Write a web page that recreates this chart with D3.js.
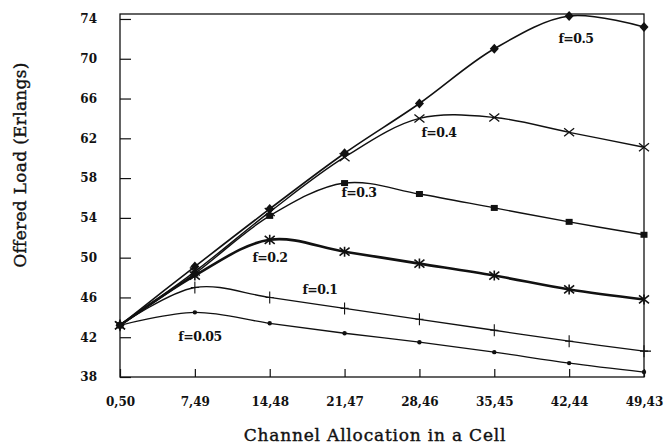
<!DOCTYPE html>
<html>
<head>
<meta charset="utf-8">
<script src="https://cdn.jsdelivr.net/npm/d3@7"></script>
<style>
  body { margin: 0; background: #fff; }
  svg text { font-family: "DejaVu Serif", serif; font-weight: bold; fill: #111; }
</style>
</head>
<body>
<div id="chart"></div>
<script>
// valeurs
const categories = ["0,50", "7,49", "14,48", "21,47", "28,46", "35,45", "42,44", "49,43"];
const yTicks = [38, 42, 46, 50, 54, 58, 62, 66, 70, 74];

const f05 = [43.2, 49.1, 54.9, 60.5, 65.5, 71.0, 74.3, 73.2];
const f04 = [43.2, 48.6, 54.6, 60.1, 64.0, 64.1, 62.6, 61.1];
const f03 = [43.2, 48.4, 54.2, 57.5, 56.4, 55.0, 53.6, 52.3];
const f02 = [43.2, 48.2, 51.8, 50.6, 49.4, 48.2, 46.8, 45.8];
const f01 = [43.2, 47.0, 46.0, 44.9, 43.8, 42.7, 41.6, 40.6];
const f005 = [43.2, 44.5, 43.4, 42.4, 41.5, 40.5, 39.4, 38.5];

const seriesNames = ["f=0.5", "f=0.4", "f=0.3", "f=0.2", "f=0.1", "f=0.05"];

var width = 665, height = 445;
var margin = { left: 120, right: 21, top: 14, bottom: 68 };

var svg = d3.select("#chart").append("svg")
  .attr("width", width)
  .attr("height", height);

var x = d3.scalePoint().domain(categories).range([margin.left, width - margin.right]);
var y = d3.scaleLinear().domain([38, 74.5]).range([height - margin.bottom, margin.top]);

// cadre
svg.append("rect")
  .attr("x", margin.left)
  .attr("y", margin.top)
  .attr("width", width - margin.right - margin.left)
  .attr("height", height - margin.bottom - margin.top)
  .attr("fill", "none")
  .attr("stroke", "#111")
  .attr("stroke-width", 1.3);

// axe y : ticks vers l'interieur
var yAxis = d3.axisLeft(y).tickValues(yTicks).tickSize(-11).tickPadding(23);
var gy = svg.append("g").attr("transform", "translate(" + margin.left + ",0)").call(yAxis);
gy.select(".domain").remove();
gy.selectAll("line").attr("stroke", "#111").attr("stroke-width", 1.2);
gy.selectAll("text")
  .attr("x", -23)
  .attr("text-anchor", "end")
  .style("font-size", "12px").style("font-family", "DejaVu Serif").style("font-weight", "bold");

// axe x
var xAxis = d3.axisBottom(x).tickSize(-8).tickPadding(20);
var gx = svg.append("g").attr("transform", "translate(0," + (height - margin.bottom) + ")").call(xAxis);
gx.select(".domain").remove();
gx.selectAll("line").attr("stroke", "#111").attr("stroke-width", 1.2);
gx.selectAll("text").style("font-size", "12px").style("font-family", "DejaVu Serif").style("font-weight", "bold");

// titres
svg.append("text")
  .attr("x", 375)
  .attr("y", 441)
  .attr("text-anchor", "middle")
  .style("font-size", "17px")
  .style("font-weight", "normal")
  .style("letter-spacing", "0.8px")
  .attr("stroke", "#111")
  .attr("stroke-width", 0.4)
  .text("Channel Allocation in a Cell");

svg.append("text")
  .attr("transform", "translate(26,165) rotate(-90)")
  .attr("text-anchor", "middle")
  .style("font-size", "17px")
  .style("font-weight", "normal")
  .style("letter-spacing", "0.3px")
  .attr("stroke", "#111")
  .attr("stroke-width", 0.4)
  .text("Offered Load (Erlangs)");

var line = d3.line()
  .x(function (d, i) { return x(categories[i]); })
  .y(function (d) { return y(d); })
  .curve(d3.curveCatmullRom.alpha(0.5));

var allSeries = [f05, f04, f03, f02, f01, f005];
var widths = [1.6, 1.4, 1.4, 2.6, 1.3, 1.3];

allSeries.forEach(function (s, k) {
  svg.append("path")
    .datum(s)
    .attr("d", line)
    .attr("fill", "none")
    .attr("stroke", "#111")
    .attr("stroke-width", widths[k]);
});

// la courbe f=0.1 depasse un peu a droite
svg.append("line")
  .attr("x1", x(categories[7]))
  .attr("x2", x(categories[7]) + 7)
  .attr("y1", y(f01[7]))
  .attr("y2", y(f01[7]))
  .attr("stroke", "#111")
  .attr("stroke-width", 1.3);

// marqueurs
function drawMarker(g, type) {
  if (type == "diamond") {
    g.append("path").attr("d", "M0,-5L4.5,0L0,5L-4.5,0Z").attr("fill", "#111");
  } else if (type == "x") {
    g.append("path").attr("d", "M-5,-4L5,4M-5,4L5,-4").attr("stroke", "#111").attr("stroke-width", 1.3);
  } else if (type == "square") {
    g.append("rect").attr("x", -3.5).attr("y", -3).attr("width", 7).attr("height", 6).attr("fill", "#111");
  } else if (type == "star") {
    g.append("path").attr("d", "M-5,-4L5,4M-5,4L5,-4M0,-5L0,5").attr("stroke", "#111").attr("stroke-width", 1.6);
  } else if (type == "plus") {
    g.append("path").attr("d", "M0,-6L0,6M-4,0L4,0").attr("stroke", "#111").attr("stroke-width", 1.1);
  } else if (type == "dot") {
    g.append("circle").attr("r", 2.2).attr("fill", "#111");
  }
}

var markerTypes = ["diamond", "x", "square", "star", "plus", "dot"];
allSeries.forEach(function (s, k) {
  s.forEach(function (v, i) {
    var g = svg.append("g").attr("transform", "translate(" + x(categories[i]) + "," + y(v) + ")");
    drawMarker(g, markerTypes[k]);
  });
});

// etiquettes des courbes
var labelPos = [
  [576, 43], [439, 137], [359, 197], [270, 262], [320, 294], [200, 341]
];
seriesNames.forEach(function (n, k) {
  svg.append("text")
    .attr("x", labelPos[k][0])
    .attr("y", labelPos[k][1])
    .attr("text-anchor", "middle")
    .style("font-size", "12.5px")
    .style("letter-spacing", "-0.5px")
    .text(n);
});
</script>
</body>
</html>
